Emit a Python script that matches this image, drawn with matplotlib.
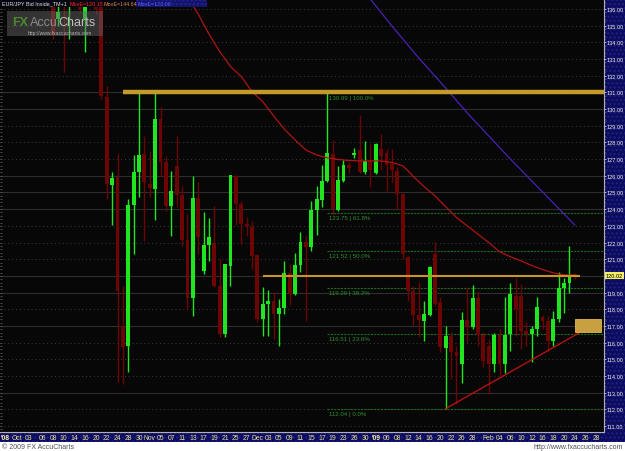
import matplotlib
matplotlib.use('Agg')
import matplotlib.pyplot as plt
import matplotlib.transforms as mtransforms
from matplotlib import font_manager
from matplotlib.patches import Rectangle

# pick a narrow-ish font for the small axis texts
names = {f.name for f in font_manager.fontManager.ttflist}
NARROW = 'DejaVu Sans'
for cand in ['Liberation Sans Narrow', 'DejaVu Sans Condensed', 'Liberation Sans']:
    if cand in names:
        NARROW = cand
        break

# bar index 0 = 29 Sep 2008, one bar per trading day (no 25 Dec / 1 Jan)
bars = list(range(7, 105))
opens = [138.00, 135.40, 139.00, 137.00, 140.50, 140.50, 135.40, 137.20, 137.80, 136.50,
         130.72, 125.45, 125.93, 117.00, 115.80, 124.25, 126.23, 127.31, 125.51, 125.21,
         129.41, 126.83, 124.19, 126.59, 124.85, 122.15, 118.67, 124.67, 120.29, 121.85,
         122.00, 119.39, 116.52, 120.59, 125.99, 124.31, 123.11, 122.93, 121.25, 117.42,
         118.32, 118.49, 117.72, 118.08, 120.17, 118.91, 120.65, 122.03, 121.73, 123.95,
         124.55, 125.69, 127.31, 123.95, 125.69, 126.65, 127.25, 127.55, 126.23, 126.89,
         126.17, 127.61, 127.37, 126.71, 126.29, 124.91, 121.13, 119.09, 117.66, 117.30,
         117.66, 121.31, 118.44, 115.68, 116.40, 115.44, 114.72, 117.36, 116.94, 118.67,
         116.46, 115.80, 114.72, 116.46, 114.72, 116.52, 118.79, 118.79, 116.70, 116.52,
         116.82, 117.54, 117.30, 116.10, 117.42, 119.27, 119.57, 120.10]
highs = [139.00, 136.90, 139.50, 141.50, 143.50, 141.50, 137.50, 138.50, 138.60, 136.70,
         131.38, 126.23, 127.31, 119.39, 124.61, 127.25, 130.96, 128.39, 127.50, 130.96,
         130.13, 127.19, 126.29, 128.39, 125.39, 123.71, 125.99, 125.63, 123.83, 123.47,
         124.19, 120.99, 120.71, 126.05, 126.05, 124.49, 123.53, 123.29, 121.31, 119.33,
         119.15, 119.03, 118.61, 120.89, 120.71, 121.37, 122.63, 122.39, 124.49, 125.39,
         126.65, 131.02, 128.15, 126.59, 126.95, 126.83, 127.67, 129.65, 128.09, 127.91,
         127.97, 128.51, 127.61, 127.61, 126.53, 124.97, 121.19, 119.39, 119.63, 118.49,
         120.59, 122.03, 118.73, 117.00, 116.64, 115.80, 117.84, 119.33, 119.45, 119.09,
         116.64, 116.22, 116.58, 116.82, 118.73, 119.57, 119.87, 119.51, 117.24, 117.00,
         118.73, 117.66, 117.60, 117.90, 120.23, 119.87, 121.79, 120.15]
lows = [134.20, 135.00, 132.22, 134.20, 139.00, 135.80, 133.42, 136.70, 135.70, 130.60,
        124.61, 123.05, 113.64, 113.52, 114.24, 121.31, 124.73, 122.09, 124.73, 123.35,
        125.99, 123.89, 122.39, 124.13, 121.79, 118.02, 117.60, 121.31, 120.11, 120.89,
        119.33, 116.34, 116.34, 119.39, 123.05, 121.91, 122.39, 120.41, 117.24, 116.40,
        116.40, 116.22, 115.80, 117.72, 118.25, 118.85, 120.23, 117.30, 121.49, 122.45,
        124.13, 125.63, 123.65, 123.89, 125.63, 126.17, 127.07, 126.17, 126.11, 125.33,
        126.11, 126.35, 125.09, 125.63, 124.01, 121.01, 118.49, 117.00, 116.34, 116.10,
        117.60, 118.19, 115.44, 112.04, 113.82, 112.30, 113.58, 116.04, 116.82, 115.80,
        114.54, 112.92, 114.24, 114.00, 114.18, 115.50, 116.40, 115.62, 115.80, 114.84,
        116.40, 116.82, 115.50, 115.80, 117.24, 117.78, 118.97, 119.80]
closes = [134.45, 135.82, 136.80, 140.50, 141.00, 136.00, 137.20, 138.00, 136.00, 130.78,
          125.51, 125.87, 119.09, 115.74, 124.25, 126.23, 127.25, 125.63, 125.27, 129.41,
          126.83, 124.19, 125.09, 124.85, 122.15, 118.67, 124.67, 122.33, 121.85, 122.33,
          119.39, 116.52, 120.71, 126.05, 124.31, 123.11, 122.99, 121.19, 117.42, 118.32,
          118.49, 117.72, 118.08, 120.17, 118.91, 120.65, 122.03, 121.73, 123.95, 124.61,
          125.69, 127.37, 124.01, 125.75, 126.65, 126.47, 127.37, 126.23, 126.89, 126.35,
          127.91, 127.19, 126.65, 126.35, 124.91, 121.31, 119.09, 117.66, 117.36, 117.72,
          120.53, 118.30, 115.74, 116.40, 115.44, 115.20, 117.36, 116.94, 118.67, 116.46,
          114.90, 114.72, 116.46, 114.72, 116.46, 118.91, 118.00, 116.70, 116.52, 116.82,
          118.13, 117.30, 116.10, 117.42, 119.27, 119.57, 119.99, 120.02]

# moving averages
ma_red_bars = [31, 32, 34, 36, 38, 40, 42, 44, 46, 48, 50, 52, 54, 56, 58, 60, 62, 64, 66, 68,
               70, 72, 73, 74, 76, 78, 80, 82, 84, 86, 88, 90, 92, 94, 96, 98, 100, 102, 104]
ma_red = [137.30, 136.70, 135.70, 134.50, 133.45, 132.55, 131.95, 131.05, 130.45, 129.60,
          128.80, 128.15, 127.55, 127.25, 127.08, 126.98, 126.92, 126.89, 126.89, 126.89,
          126.80, 126.60, 126.30, 125.95, 125.35, 124.80, 124.15, 123.50, 123.00, 122.50,
          122.00, 121.45, 121.15, 120.90, 120.62, 120.38, 120.18, 120.06, 120.05]
ma_blue_bars = [65, 66, 70, 75, 80, 84, 88, 92, 96, 100, 104]
ma_blue = [136.96, 136.60, 134.98, 133.06, 131.26, 129.77, 128.39, 127.01, 125.69, 124.37, 123.05]

# fibonacci retracement from the 18 Dec high to the 21 Jan low
fib_levels = [130.99, 123.75, 121.52, 119.29, 116.51, 112.04]
fib_pcts = ['100.0%', '61.8%', '50.0%', '38.2%', '23.6%', '0.0%']
fib_start = 58

# price levels where the grid line is drawn solid instead of dotted
solid_levels = [113, 117, 119, 120, 124, 125, 126, 130, 131]

# x axis labels (bar index, text)
tick_pos = [-1.9, 0.3, 2.5, 5, 7, 9, 11, 13, 15, 17, 19, 21, 23, 25, 27, 29, 31, 33, 35, 37,
            39, 41, 43, 45, 47, 49, 51, 53, 55, 57, 59, 61, 63, 65, 67, 69, 71, 73, 75, 77,
            79, 81, 83, 85, 88, 90, 92, 94, 96, 98, 100, 102, 104, 106, 108]
tick_txt = ["'08", 'Oct', '03', '06', '08', '10', '14', '16', '20', '22', '24', '28', '30',
            'Nov', '05', '07', '11', '13', '17', '19', '21', '25', '27', 'Dec', '03', '05',
            '09', '11', '15', '17', '19', '23', '26', '30', "'09", '06', '08', '12', '14',
            '16', '20', '22', '26', '28', 'Feb', '04', '06', '10', '12', '16', '18', '20',
            '24', '26', '28']

last_price = 120.02

BG = '#070707'
NAVY = '#0c0c5c'
UP = '#1fe61f'
DOWN = '#6e0505'
XMIN, XMAX = -2.84, 109.42

fig = plt.figure(figsize=(6.25, 4.52), dpi=100)
fig.patch.set_facecolor('white')

# navy strips for the price scale and the time scale
fig.patches.append(Rectangle((604 / 625, 9 / 452), 21 / 625, 443 / 452, transform=fig.transFigure,
                             facecolor=NAVY, edgecolor='#20208a', hatch='....', lw=0, zorder=-5))
fig.patches.append(Rectangle((0, 9 / 452), 1, 10 / 452, transform=fig.transFigure,
                             facecolor=NAVY, edgecolor='#20208a', hatch='....', lw=0, zorder=-5))

ax = fig.add_axes([0, 19 / 452, 604 / 625, 433 / 452])
ax.set_facecolor(BG)
ax.set_xlim(XMIN, XMAX)
ax.set_ylim(110.64, 136.60)

# grid
for lv in range(111, 137):
    if lv in solid_levels:
        ax.axhline(lv, color='#2e2e2e', lw=0.8, zorder=1)
    else:
        ax.axhline(lv, color='#3c3c3c', lw=0.7, ls=(0, (1, 3)), zorder=1)

# little scale marks along the left edge
left_marks = [v / 5 for v in range(554, 684)]
ax.hlines(left_marks, XMIN, XMIN + 0.3, color='#5a5a5a', lw=0.6, zorder=2)

# candles
for b, o, h, l, c in zip(bars, opens, highs, lows, closes):
    col = UP if c >= o else DOWN
    ax.vlines(b, l, h, color=col, lw=1.0, zorder=3)
    body = max(abs(c - o), 0.07)
    ax.bar(b, body, bottom=min(o, c), width=0.72, color=col, lw=0, zorder=4)

# moving averages
ax.plot(ma_red_bars, ma_red, color='#b01414', lw=0.9, zorder=5)
ax.plot(ma_blue_bars, ma_blue, color='#4a22b0', lw=0.9, zorder=5)

# fibonacci lines and labels
for lv, pc in zip(fib_levels, fib_pcts):
    ax.hlines(lv, fib_start, XMAX, color='#1d6a1d', lw=0.8, ls=(0, (2, 1)), zorder=2)
    ax.text(fib_start + 0.3, lv - 0.12, f'{lv:.2f} | {pc}', color='#2f8f2f', fontsize=4.4,
            family=NARROW, va='top', ha='left', zorder=6)

# drawn lines: resistance, breakout level, target box, rising trendline
ax.hlines(131.0, 20.0, XMAX, color='#c49a2c', lw=3.2, zorder=7)
ax.hlines(120.0, 46.0, 105.0, color='#c8952a', lw=1.5, zorder=7)
ax.add_patch(Rectangle((104.0, 116.65), 4.9, 0.77, facecolor='#c8a040', edgecolor='#dcb85a',
                       lw=0.6, zorder=7))
ax.plot([80, 108.7], [112.04, 117.30], color='#c81010', lw=0.9, zorder=6)

# axes styling
for s in ['top', 'left']:
    ax.spines[s].set_visible(False)
ax.spines['bottom'].set_color('#b0b0b0')
ax.spines['bottom'].set_linewidth(0.8)
ax.spines['right'].set_color('#b0b0b0')
ax.spines['right'].set_linewidth(0.8)

ax.set_xticks(tick_pos)
ax.set_xticklabels(tick_txt)
ax.tick_params(axis='x', length=0, pad=1.8, labelsize=4.9, labelcolor='#ecdf8a')
for lab in ax.get_xticklabels():
    lab.set_family(NARROW)
    if lab.get_text().startswith("'"):
        lab.set_fontweight('bold')
        lab.set_color('#fff2a0')

ax.yaxis.tick_right()
ylev = list(range(111, 137))
ax.set_yticks(ylev)
ax.set_yticklabels(['' if v == 120 else f'{v:.2f}' for v in ylev])
ax.set_yticks([v / 5 for v in range(555, 683)], minor=True)
ax.tick_params(axis='y', which='major', length=1.2, width=0.6, color='#d0d0d0', pad=0.4,
               labelsize=4.1, labelcolor='#eeeeee')
ax.tick_params(axis='y', which='minor', length=0.8, width=0.5, color='#a0a0a0')
for lab in ax.get_yticklabels():
    lab.set_family(NARROW)

# current price tag
tr = mtransforms.blended_transform_factory(ax.transAxes, ax.transData)
ax.text(1.003, last_price, f'{last_price:.2f}', transform=tr, fontsize=4.1, family=NARROW,
        color='black', va='center', ha='left', clip_on=False,
        bbox=dict(boxstyle='square,pad=0.12', facecolor='#f4ee62', edgecolor='none'), zorder=10)

# header strip
fig.patches.append(Rectangle((0, 1 - 8 / 452), 136 / 625, 8 / 452, transform=fig.transFigure,
                             facecolor='#050510', lw=0, zorder=2))
fig.patches.append(Rectangle((136 / 625, 1 - 8 / 452), 71 / 625, 8 / 452, transform=fig.transFigure,
                             facecolor='#141468', edgecolor='#22229a', hatch='....', lw=0, zorder=2))
hy = 1 - 4.2 / 452
head = [('EUR/JPY Bid Inside_TM+1', 2, '#e0e0e0'), ('MovE=120.15', 69, '#ff2a2a'),
        ('MovE=144.64', 103, '#e08a3a'), ('MovE=123.08', 138, '#5a5aff')]
for txt, px, col in head:
    fig.text(px / 625, hy, txt, color=col, fontsize=3.9, family=NARROW, va='center', zorder=3)

# watermark
fig.patches.append(Rectangle((7 / 625, 1 - 37 / 452), 96 / 625, 25 / 452, transform=fig.transFigure,
                             facecolor='#6a6a6a', alpha=0.45, lw=0, zorder=2))
fig.text(12 / 625, 1 - 23 / 452, 'FX', color='#4f9a2a', fontsize=9.0, fontweight='bold',
         family=NARROW, va='center', zorder=3, alpha=0.85)
fig.text(30 / 625, 1 - 23 / 452, 'Accu', color='#9a9a9a', fontsize=9.0, family=NARROW,
         va='center', zorder=3, alpha=0.85)
fig.text(58 / 625, 1 - 23 / 452, 'Charts', color='#d8d8d8', fontsize=9.0, family=NARROW,
         va='center', zorder=3, alpha=0.85)
fig.text(28 / 625, 1 - 33 / 452, 'http://www.fxaccucharts.com', color='#c8c8c8', fontsize=3.6,
         family=NARROW, va='center', zorder=3, alpha=0.85)

# footer
fig.text(2 / 625, 4 / 452, '\u00a9 2009 FX AccuCharts', color='#505050', fontsize=5.0,
         family=NARROW, va='center')
fig.text(623 / 625, 4 / 452, 'http://www.fxaccucharts.com', color='#505050', fontsize=5.0,
         family=NARROW, va='center', ha='right')

fig.savefig('out.png', dpi=100, facecolor=fig.get_facecolor())
